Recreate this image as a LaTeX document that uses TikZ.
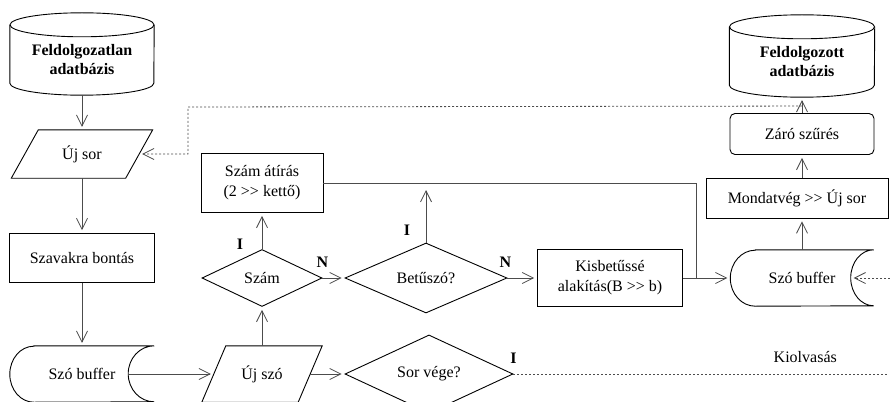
\documentclass[tikz,border=0pt]{standalone}
\usepackage{fontspec}
\setmainfont{Liberation Serif}
\usepackage{tikz}
\usetikzlibrary{shapes.geometric,positioning,arrows.meta}

\begin{document}
\begin{tikzpicture}[x=1pt,y=-1pt,on grid,node distance=100pt,
        >={Straight Barb[length=11pt,width=11pt]}]
        \tikzset{every node/.style={font=\fontsize{16}{20}\selectfont,align=center,inner sep=0pt}}
        \tikzstyle{proc}=[draw,line width=0.9pt]
        \tikzstyle{decide}=[draw,diamond,line width=0.9pt]
        \tikzstyle{outline}=[line width=0.9pt]
        \tikzstyle{wire}=[draw=black!70,line width=0.8pt]
        \tikzstyle{flow}=[->,shorten >=3pt,every edge/.style=wire]
        \tikzstyle{back}=[wire,->,shorten >=3pt,dash pattern=on 2pt off 2pt]
        \tikzstyle{yn}=[font=\fontsize{16}{20}\selectfont\bfseries]
        \tikzstyle{db}=[font=\fontsize{16}{19}\selectfont\bfseries,minimum width=144pt,minimum height=70pt]
        \useasboundingbox (0,0) rectangle (890,401);
        \clip (0,0) rectangle (890,401);

        % left column
        \node[db] (db1) at (82,60) {Feldolgozatlan\\adatbázis};
        \node[minimum width=141pt,minimum height=48pt] (usor) [below=94pt of db1] {Új sor};
        \node[proc,minimum width=145pt,minimum height=49pt] (szavak) [below=104pt of usor] {Szavakra bontás};
        \node[minimum width=144pt,minimum height=56pt] (sb1) [below=116pt of szavak] {Szó buffer};
        % middle
        \node[minimum width=120pt,minimum height=56pt] (ujszo) [right=180pt of sb1] {Új szó};
        \node[decide,minimum width=120pt,minimum height=57pt] (szam) [above=96pt of ujszo] {Szám};
        \node[proc,minimum width=122pt,minimum height=59pt] (atiras) [above=95pt of szam] {Szám átírás\\(2 >{}> kettő)};
        \node[decide,minimum width=162pt,minimum height=57pt] (betu) [right=164pt of szam] {Betűszó?};
        \node[decide,minimum width=168pt,minimum height=56pt] (sorvege) [right=167pt of ujszo] {Sor vége?};
        \node[proc,minimum width=145pt,minimum height=57pt] (kisb) [right=184pt of betu] {Kisbetűssé\\alakítás(B >{}> b)};
        % right column
        \node[minimum width=143pt,minimum height=56pt] (sb2) [right=192pt of kisb] {Szó buffer};
        \node[proc,minimum width=182pt,minimum height=40pt] (mondat) at (797,198) {Mondatvég >{}> Új sor};
        \node[proc,rounded corners=5pt,minimum width=144pt,minimum height=41pt] (zaro) at (802,134) {Záró szűrés};
        \node[db,minimum width=145pt] (db2) at (802,62) {Feldolgozott\\adatbázis};

        % outlines
        \draw[outline] (db1.north) ellipse [x radius=72pt,y radius=12pt];
        \draw[outline] (db1.north west) -- ([yshift=12pt]db1.south west)
            arc[start angle=180,end angle=360,x radius=72pt,y radius=12pt] -- (db1.north east);
        \draw[outline] (db2.north) ellipse [x radius=72.5pt,y radius=12pt];
        \draw[outline] (db2.north west) -- ([yshift=12pt]db2.south west)
            arc[start angle=180,end angle=360,x radius=72.5pt,y radius=12pt] -- (db2.north east);
        \draw[outline] ([xshift=27pt]usor.north west) -- (usor.north east)
            -- ([xshift=-27pt]usor.south east) -- (usor.south west) -- cycle;
        \draw[outline] ([xshift=24pt]ujszo.north west) -- (ujszo.north east)
            -- ([xshift=-24pt]ujszo.south east) -- (ujszo.south west) -- cycle;
        \draw[outline] ([xshift=24pt]sb1.north west) -- (sb1.north east)
            arc[start angle=90,end angle=270,x radius=26pt,y radius=28pt]
            -- ([xshift=24pt]sb1.south west)
            arc[start angle=270,end angle=90,x radius=24pt,y radius=28pt] -- cycle;
        \draw[outline] ([xshift=25pt]sb2.north west) -- (sb2.north east)
            arc[start angle=90,end angle=270,x radius=23pt,y radius=28pt]
            -- ([xshift=25pt]sb2.south west)
            arc[start angle=270,end angle=90,x radius=25pt,y radius=28pt] -- cycle;

        \coordinate[right=13pt of kisb.east] (join);
        \coordinate[above=7pt of zaro.north] (tap);
        \coordinate (turn) at (188,107);
        \coordinate (inR) at (890,278);
        \coordinate (outR) at (890,374);

        \path[flow]
        (db1) edge (usor)
        (usor) edge (szavak)
        (szavak) edge (sb1)
        ([xshift=-26pt]sb1.east) edge ([xshift=12pt]ujszo.west)
        ([xshift=-12pt]ujszo.east) edge (sorvege)
        (ujszo) edge (szam)
        (szam) edge node[yn,pos=0,xshift=-22pt,yshift=5pt] {I} (atiras)
        (szam) edge node[yn,pos=0,yshift=16pt] {N} (betu)
        (betu.north) edge[shorten >=7pt] node[yn,pos=0,xshift=-19pt,yshift=12pt] {I} (betu.north |- atiras.east)
        (betu) edge node[yn,pos=0,xshift=-2pt,yshift=16pt] {N} (kisb)
        (kisb) edge (sb2)
        (sb2) edge (sb2.north |- mondat.south)
        (zaro.south |- mondat.north) edge (zaro)
        (zaro) edge (db2);
        \draw[wire] (atiras.east) -| (join);
        \draw[back] (tap) -- (turn) |- ([xshift=-13.5pt]usor.east);
        \draw[back] (inR) -- ([xshift=-23pt]sb2.east);
        \draw[back,-] (sorvege) -- (outR)
            node[yn,pos=0,yshift=16pt] {I}
            node[pos=0.775,yshift=17pt] {Kiolvasás};
\end{tikzpicture}
\end{document}
